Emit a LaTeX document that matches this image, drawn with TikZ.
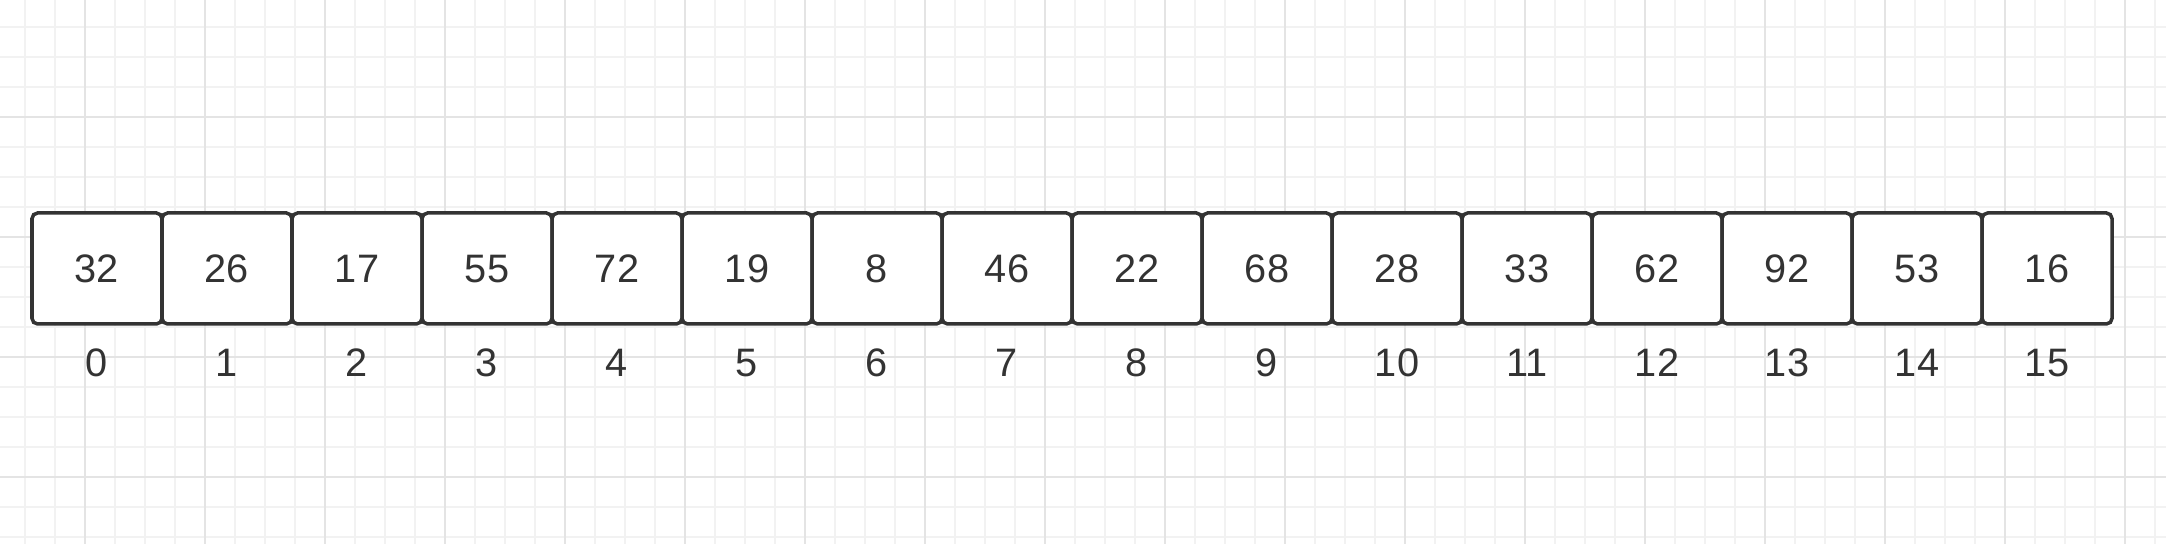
\documentclass[tikz,border=0pt]{standalone}
\usepackage{fontspec}
\setmainfont{Liberation Sans}
\usepackage{xcolor}
\usetikzlibrary{positioning}

\definecolor{gridminor}{HTML}{F2F2F2}
\definecolor{gridmajor}{HTML}{E4E4E4}
\definecolor{cellline}{HTML}{333333}

\begin{document}
\begin{tikzpicture}[
    cell/.style={draw=cellline, fill=white, line width=1pt, rounded corners=1.6pt,
      minimum width=1.3cm, minimum height=1.11cm, inner sep=0pt, outer sep=0pt,
      text height=0.285cm, text depth=0pt,
      text=cellline, font=\fontsize{11.3}{13}\selectfont},
    idxlabel/.style={inner sep=0pt, outer sep=0pt, text=cellline,
      text height=0.285cm, text depth=0pt,
      font=\fontsize{11.3}{13}\selectfont}
  ]
    \useasboundingbox (0,0) rectangle (21.66,-5.44);
    \fill[white] (0,0) rectangle (21.66,-5.44);

    % Background grid (minor lines)
    \foreach \x in {0,...,71} {
        \draw[gridminor, line width=0.6pt] ({0.25+0.3*\x},0) -- ({0.25+0.3*\x},-5.44);
    }
    \foreach \y in {0,...,17} {
        \draw[gridminor, line width=0.6pt] (0,{-0.27-0.3*\y}) -- (21.66,{-0.27-0.3*\y});
    }
    % Background grid (major lines)
    \foreach \x in {0,...,17} {
        \draw[gridmajor, line width=0.6pt] ({0.85+1.2*\x},0) -- ({0.85+1.2*\x},-5.44);
    }
    \foreach \y in {0,...,3} {
        \draw[gridmajor, line width=0.6pt] (0,{-1.17-1.2*\y}) -- (21.66,{-1.17-1.2*\y});
    }

    % Array cells with their index below
    \foreach \v [count=\i from 0] in {32,26,17,55,72,19,8,46,22,68,28,33,62,92,53,16} {
        \node[cell] (c\i) at ({0.97+1.3*\i},-2.685) {\v};
        \node[idxlabel, below=0.245cm of c\i] (i\i) {\i};
    }
\end{tikzpicture}
\end{document}
